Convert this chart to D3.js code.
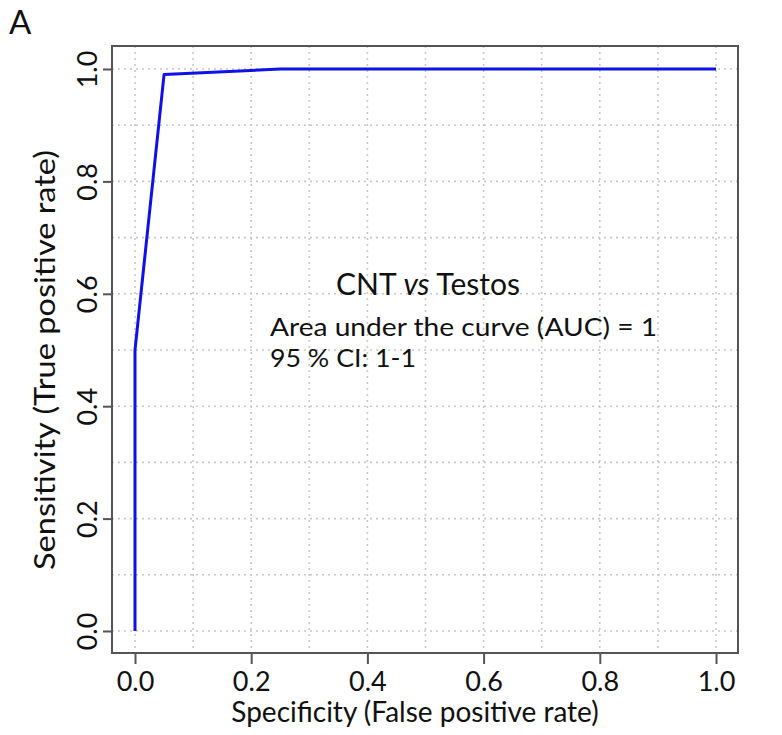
<!DOCTYPE html>
<html>
<head>
<meta charset="utf-8">
<script src="https://cdn.jsdelivr.net/npm/d3@7"></script>
<style>
  body { margin: 0; background: #fff; }
  text { font-family: Lato, "Open Sans", sans-serif; fill: #111; }
</style>
</head>
<body>
<div id="main"></div>
<script>
// data: ROC curve points (false positive rate, true positive rate)
var fpr = [0, 0, 0.05, 0.25, 1];
var tpr = [0, 0.5, 0.99, 1, 1];
var ticks = [0, 0.2, 0.4, 0.6, 0.8, 1.0];
var gridTicks = [0, 0.1, 0.2, 0.3, 0.4, 0.5, 0.6, 0.7, 0.8, 0.9, 1.0];
var titleText = "CNT";
var aucLines = ["Area under the curve (AUC) = 1", "95 % CI: 1-1"];
var aucWidths = [387, 146];

var svg_width = 782, svg_height = 735;
var box = {left: 112, right: 738, top: 46, bottom: 653};

var svg = d3.select("#main").append("svg")
    .attr("width", svg_width)
    .attr("height", svg_height);

var xScale = d3.scaleLinear().domain([0, 1]).range([135, 716]);
var yScale = d3.scaleLinear().domain([0, 1]).range([631, 69]);

// dotted grid
svg.append("g").selectAll("line.v")
    .data(gridTicks).enter().append("line")
    .attr("x1", function(d) { return xScale(d); })
    .attr("x2", function(d) { return xScale(d); })
    .attr("y1", box.top).attr("y2", box.bottom)
    .attr("stroke", "#c8c8c8").attr("stroke-width", 1.6)
    .attr("stroke-dasharray", "2,4");
svg.append("g").selectAll("line.h")
    .data(gridTicks).enter().append("line")
    .attr("y1", function(d) { return yScale(d); })
    .attr("y2", function(d) { return yScale(d); })
    .attr("x1", box.left).attr("x2", box.right)
    .attr("stroke", "#c8c8c8").attr("stroke-width", 1.6)
    .attr("stroke-dasharray", "2,4");

// axes
var xAxis = svg.append("g")
    .attr("transform", "translate(0," + box.bottom + ")")
    .call(d3.axisBottom(xScale).tickValues(ticks).tickFormat(d3.format(".1f"))
        .tickSize(11).tickPadding(8));
var yAxis = svg.append("g")
    .attr("transform", "translate(" + box.left + ",0)")
    .call(d3.axisLeft(yScale).tickValues(ticks).tickFormat(d3.format(".1f"))
        .tickSize(9).tickPadding(8));
[xAxis, yAxis].forEach(function(a) {
    a.select(".domain").remove();
    a.selectAll(".tick line").attr("stroke", "#555").attr("stroke-width", 2);
    a.selectAll(".tick text").style("font-size", "27px").attr("fill", "#111");
});
yAxis.selectAll(".tick text")
    .attr("transform", "rotate(-90)")
    .attr("text-anchor", "middle")
    .attr("x", 0).attr("y", -15)
    .attr("dy", "0");

// panel border
svg.append("rect")
    .attr("x", box.left).attr("y", box.top)
    .attr("width", box.right - box.left).attr("height", box.bottom - box.top)
    .attr("fill", "none").attr("stroke", "#555").attr("stroke-width", 2);

// ROC line
var line = d3.line()
    .x(function(d, i) { return xScale(fpr[i]); })
    .y(function(d, i) { return yScale(tpr[i]); });
svg.append("path")
    .datum(fpr)
    .attr("d", line)
    .attr("fill", "none")
    .attr("stroke", "#1010e8")
    .attr("stroke-width", 3)
    .attr("stroke-linejoin", "round");

// axis labels
svg.append("text")
    .attr("x", 415).attr("y", 722)
    .attr("text-anchor", "middle")
    .style("font-size", "28px")
    .text("Specificity (False positive rate)");
svg.append("text")
    .attr("transform", "translate(55,360) rotate(-90)")
    .attr("text-anchor", "middle")
    .attr("textLength", 420)
    .attr("lengthAdjust", "spacingAndGlyphs")
    .style("font-size", "28px")
    .text("Sensitivity (True positive rate)");

// panel letter
svg.append("text")
    .attr("x", 9).attr("y", 34)
    .style("font-size", "33px")
    .text("A");

// annotation
var t = svg.append("text")
    .attr("x", 336).attr("y", 295)
    .style("font-size", "30px");
t.append("tspan").text(titleText + " ");
t.append("tspan").style("font-style", "italic").text("vs");
t.append("tspan").text(" Testos");

svg.selectAll("text.auc")
    .data(aucLines).enter().append("text")
    .attr("class", "auc")
    .attr("x", 270)
    .attr("y", function(d, i) { return 336 + i * 31; })
    .attr("textLength", function(d, i) { return aucWidths[i]; })
    .attr("lengthAdjust", "spacingAndGlyphs")
    .style("font-size", "25.5px")
    .text(function(d) { return d; });
</script>
</body>
</html>
